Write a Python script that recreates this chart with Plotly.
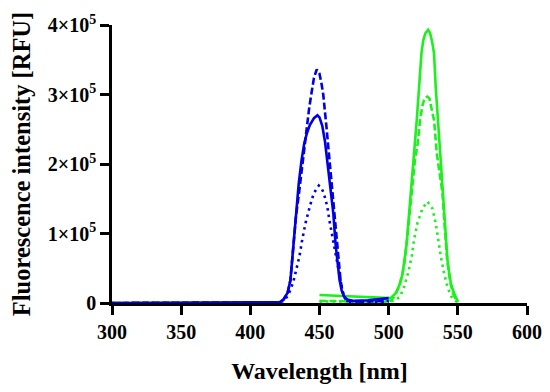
import plotly.graph_objects as go

# Wavelength [nm] and intensity [RFU]
blue_solid_x = [300, 400, 418, 421, 424, 427, 429, 431, 433, 435, 437, 439, 441, 443, 446, 448.5, 450, 452, 454, 455.6, 457, 458.5, 460, 461.6, 463, 464.5, 466, 467.6, 470, 475, 485, 495, 500]
blue_solid_y = [0, 0, 0, 1000, 5000, 15000, 33000, 80000, 130000, 172000, 205000, 230000, 245000, 256000, 266000, 270000, 267000, 255000, 232000, 206000, 180000, 155000, 129000, 85000, 55000, 33000, 18000, 10000, 5000, 3000, 4000, 6000, 7000]

blue_dash_x = [300, 400, 418, 421, 424, 427, 429, 431, 433, 435, 436.5, 438, 440.5, 442.5, 444.2, 446, 448, 450, 451.5, 452.7, 455, 457.2, 458.5, 459.5, 461, 462.8, 464, 465.2, 466.5, 467.6, 470, 480, 500]
blue_dash_y = [0, 0, 0, 1000, 5000, 15000, 33000, 80000, 125000, 155000, 180000, 206000, 254000, 280000, 302000, 324000, 336000, 330000, 315000, 300000, 254000, 206000, 175000, 155000, 129000, 81000, 55000, 33000, 18000, 10000, 3000, 2000, 3000]

blue_dot_x = [300, 410, 420, 424, 427, 429, 431, 432.6, 434, 435.5, 437.5, 439.9, 443, 445.9, 449.5, 451.5, 453.1, 455.6, 457.5, 459.7, 461.6, 464, 466.5, 468, 470, 480, 500]
blue_dot_y = [0, 0, 0, 3000, 10000, 19000, 30000, 43000, 55000, 67000, 91000, 115000, 139000, 158000, 169000, 165000, 158000, 139000, 115000, 91000, 67000, 43000, 19000, 8000, 2000, 1000, 2000]

green_solid_x = [450, 460, 470, 480, 490, 500, 501.4, 503, 505, 506.5, 508.2, 510, 511.6, 513, 514, 515, 516, 517, 517.9, 519, 520.3, 522, 523.7, 525, 526.5, 528.5, 530, 531.5, 532.8, 534, 535.7, 536.7, 537.7, 538.9, 540.6, 542.5, 543.8, 545, 547.3, 549, 550]
green_solid_y = [11500, 10500, 9500, 8500, 7800, 7000, 7000, 10000, 14000, 20000, 28000, 42000, 62000, 85000, 110000, 133000, 158000, 180000, 200000, 230000, 263000, 311000, 359000, 378000, 388000, 393000, 388000, 375000, 359000, 311000, 263000, 230000, 196000, 158000, 110000, 62000, 42000, 28000, 14000, 6000, 2000]

green_dash_x = [450, 475, 500, 502, 505, 508.2, 510, 511.6, 513, 514, 515.5, 517, 519, 521, 522.7, 524.5, 526, 528, 529.5, 531, 532.8, 534.8, 536, 537.2, 538.9, 540.5, 542.3, 544.5, 546.5, 548.5, 550]
green_dash_y = [3000, 2500, 2000, 4000, 12000, 28000, 42000, 60000, 83000, 105000, 135000, 165000, 206000, 230000, 263000, 285000, 295000, 297000, 294000, 280000, 263000, 215000, 196000, 177000, 158000, 110000, 62000, 30000, 14000, 5000, 1000]

green_dot_x = [450, 475, 500, 503, 506, 508.2, 511.1, 514, 516.7, 518.3, 520.8, 524.4, 528, 531.6, 534, 535.7, 537.7, 540, 542.5, 545.4, 548, 550]
green_dot_y = [2000, 2000, 2000, 3000, 6000, 9000, 23000, 43000, 67000, 91000, 115000, 136000, 146000, 136000, 115000, 91000, 67000, 43000, 23000, 9000, 3000, 0]

x_ticks = [300, 350, 400, 450, 500, 550, 600]
y_ticks = [0, 100000, 200000, 300000, 400000]
y_tick_text = ["0", "1×10<sup>5</sup>", "2×10<sup>5</sup>", "3×10<sup>5</sup>", "4×10<sup>5</sup>"]

BLUE = "rgb(0,0,225)"
GREEN = "rgb(30,240,30)"
DASH = "7px,3px"
DOT = "2.5px,4px"

fig = go.Figure()
series = [
    (green_dot_x, green_dot_y, GREEN, DOT),
    (green_dash_x, green_dash_y, GREEN, DASH),
    (green_solid_x, green_solid_y, GREEN, "solid"),
    (blue_dot_x, blue_dot_y, BLUE, DOT),
    (blue_dash_x, blue_dash_y, BLUE, DASH),
    (blue_solid_x, blue_solid_y, BLUE, "solid"),
]
for xs, ys, col, dash in series:
    fig.add_trace(go.Scatter(x=xs, y=ys, mode="lines",
                             line=dict(color=col, width=2.6, dash=dash),
                             showlegend=False, hoverinfo="skip"))

font_family = "Liberation Serif"
# page body has an 8px margin, so the figure is offset by (8, 8)
fig.update_layout(
    width=542, height=384,
    margin=dict(l=104, r=23, t=17, b=89),
    paper_bgcolor="white", plot_bgcolor="white",
    font=dict(family=font_family, color="black"),
    showlegend=False,
)
fig.update_xaxes(
    range=[300, 600], tickvals=x_ticks, ticktext=[str(v) for v in x_ticks],
    showline=True, linecolor="black", linewidth=2.6,
    ticks="outside", ticklen=9, tickwidth=2.6, tickcolor="black",
    showgrid=False, zeroline=False,
    tickfont=dict(family=font_family, size=20, color="black", weight="bold"),
    title=dict(text="<b>Wavelength [nm]</b>", font=dict(family=font_family, size=24, color="black"), standoff=21),
    automargin=False,
)
fig.update_yaxes(
    range=[0, 400000], tickvals=y_ticks, ticktext=y_tick_text,
    showline=True, linecolor="black", linewidth=2.6,
    ticks="outside", ticklen=9, tickwidth=2.6, tickcolor="black",
    showgrid=False, zeroline=False,
    tickfont=dict(family=font_family, size=20, color="black", weight="bold"),
    title=dict(text="<b>Fluorescence intensity [RFU]</b>", font=dict(family=font_family, size=24.5, color="black"), standoff=11),
    automargin=False,
)

fig.write_html("out.html")
